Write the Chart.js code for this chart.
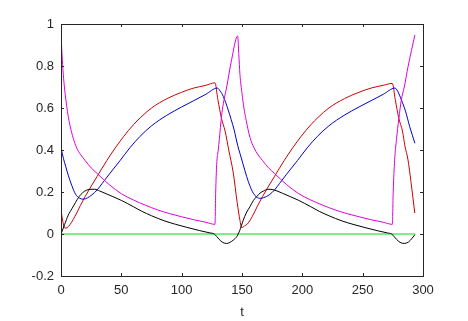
<!DOCTYPE html>
<html>
<head>
<meta charset="utf-8">
<script src="https://cdn.jsdelivr.net/npm/chart.js@4.4.0/dist/chart.umd.min.js"></script>
<style>
  html, body { margin: 0; padding: 0; background: #ffffff; }
  canvas { display: block; }
</style>
</head>
<body>
<canvas id="c" width="468" height="321"></canvas>
<script>
// ---- data ----
const xTickValues = [0, 50, 100, 150, 200, 250, 300];
const yTickValues = [-0.2, 0, 0.2, 0.4, 0.6, 0.8, 1];
const xLabel = 't';

const tRed = [0, 1.5, 3.3, 5, 7.5, 10, 13, 16, 20, 24, 30, 38, 45, 52, 60, 66, 75, 88, 100, 110, 120, 127.6,
  130, 133, 136, 139, 142.8, 146, 148.3, 149.7, 152, 154.5, 157, 160, 163, 167, 171, 177, 185, 192, 199, 207, 213, 222, 235,
  247, 257, 267, 274.6, 277, 280, 283, 285, 287.6, 290, 293.2];
const red = [0.115, 0.06, 0.028, 0.03, 0.045, 0.068, 0.10, 0.135, 0.178, 0.218, 0.275, 0.35, 0.41, 0.465, 0.52, 0.555, 0.60, 0.645, 0.675, 0.695, 0.708, 0.72,
  0.64, 0.55, 0.49, 0.40, 0.29, 0.15, 0.065, 0.03, 0.038, 0.048, 0.068, 0.10, 0.135, 0.178, 0.218, 0.275, 0.35, 0.41, 0.465, 0.52, 0.555, 0.60, 0.645,
  0.675, 0.695, 0.708, 0.717, 0.64, 0.55, 0.49, 0.42, 0.352, 0.25, 0.10];

const tBlue = [0, 2, 4, 6, 9, 12, 15.5, 18.5, 22, 25.5, 30, 34, 40, 49, 57, 65.5, 75, 87.6, 100, 110, 120, 129.5,
  132, 134.5, 138.6, 143.5, 146.5, 148.3, 151, 153.9, 156.5, 159.4, 162, 165, 168, 172.5, 177, 181, 187, 196, 204,
  212.5, 222, 234.6, 247, 257, 267, 276.8, 279, 282, 285.5, 289, 293.3];
const blue = [0.41, 0.36, 0.32, 0.28, 0.23, 0.19, 0.17, 0.166, 0.172, 0.186, 0.21, 0.24, 0.285, 0.35, 0.41, 0.465, 0.515, 0.565, 0.605, 0.635, 0.665, 0.695,
  0.68, 0.655, 0.59, 0.495, 0.42, 0.384, 0.33, 0.273, 0.23, 0.194, 0.176, 0.17, 0.173, 0.186, 0.21, 0.24, 0.285, 0.35, 0.41,
  0.465, 0.515, 0.565, 0.605, 0.635, 0.665, 0.695, 0.68, 0.64, 0.585, 0.511, 0.432];

const tBlack = [0, 3, 6, 9, 12, 15, 18, 21, 24, 28, 32, 36.5, 43, 50, 60, 67, 75, 86, 95, 104, 115, 123.5, 127,
  131, 134, 137.3, 140, 143, 145.6, 148, 151, 153.5, 156.6, 159.5, 162.2, 165, 168, 171.5, 175, 179, 183.5, 190,
  197, 207, 214, 222, 233, 242, 251, 262, 270.5, 274, 278, 281, 284.5, 288, 291, 293.3];
const black = [0, 0.045, 0.09, 0.12, 0.15, 0.178, 0.197, 0.208, 0.213, 0.213, 0.205, 0.194, 0.178, 0.16, 0.13, 0.108, 0.087, 0.062, 0.046, 0.032, 0.016, 0.005, 0,
  -0.025, -0.04, -0.045, -0.04, -0.028, -0.013, 0.015, 0.065, 0.10, 0.13, 0.16, 0.178, 0.195, 0.205, 0.213, 0.212, 0.205, 0.194, 0.178,
  0.16, 0.13, 0.108, 0.087, 0.062, 0.046, 0.032, 0.016, 0.005, 0, -0.025, -0.04, -0.045, -0.038, -0.02, -0.003];

const tMag = [0, 0.8, 1.9, 3, 4.7, 6, 7.5, 10.2, 13, 16, 20, 25, 30, 40, 50, 60, 70, 80, 90, 100, 110, 120, 127.6,
  128.2, 129, 130.3, 131.2, 133, 134.5, 137.3, 141.4, 146.4, 147.3, 148.3, 150, 151.6, 153.5, 156.6, 160, 163, 167, 172,
  177, 187, 197, 207, 217, 227, 237, 247, 257, 267, 274.6, 275.3, 276.5, 278, 280, 282, 284.5, 287.6, 293.3];
const mag = [0.96, 0.86, 0.76, 0.69, 0.61, 0.56, 0.515, 0.455, 0.41, 0.38, 0.35, 0.315, 0.288, 0.235, 0.192, 0.162, 0.137, 0.115, 0.097, 0.082, 0.068, 0.056, 0.046,
  0.2, 0.33, 0.40, 0.45, 0.56, 0.62, 0.70, 0.83, 0.943, 0.86, 0.76, 0.67, 0.6, 0.54, 0.46, 0.41, 0.38, 0.35, 0.315,
  0.288, 0.235, 0.192, 0.162, 0.137, 0.115, 0.097, 0.082, 0.068, 0.056, 0.046, 0.2, 0.352, 0.45, 0.55, 0.638, 0.70, 0.797, 0.948];

const tGreen = [0, 293.3];
const green = [0, 0];

// ---- build chart ----
const pts = (ts, vs) => ts.map((t, i) => ({ x: t, y: vs[i] }));
const axisColor = '#262626';
const fontFamily = '"Liberation Sans", Arial, Helvetica, sans-serif';

const boxTicks = {
  id: 'boxTicks',
  afterDraw(chart) {
    const { ctx, chartArea: a, scales: { x, y } } = chart;
    ctx.save();
    ctx.strokeStyle = axisColor;
    ctx.lineWidth = 1;
    ctx.strokeRect(a.left + 0.5, a.top + 0.5, a.right - a.left, a.bottom - a.top);
    const tl = 3;
    ctx.beginPath();
    x.ticks.forEach(t => {
      const px = Math.round(x.getPixelForValue(t.value)) + 0.5;
      ctx.moveTo(px, a.bottom); ctx.lineTo(px, a.bottom - tl);
      ctx.moveTo(px, a.top); ctx.lineTo(px, a.top + tl);
    });
    y.ticks.forEach(t => {
      const py = Math.round(y.getPixelForValue(t.value)) + 0.5;
      ctx.moveTo(a.left, py); ctx.lineTo(a.left + tl, py);
      ctx.moveTo(a.right, py); ctx.lineTo(a.right - tl, py);
    });
    ctx.stroke();
    ctx.restore();
  }
};

const ds = (label, ts, vs, color) => ({
  label, data: pts(ts, vs), borderColor: color, backgroundColor: color,
  borderWidth: 1, pointRadius: 0, fill: false, cubicInterpolationMode: 'monotone'
});

new Chart(document.getElementById('c'), {
  type: 'line',
  data: {
    datasets: [
      ds('m', tMag, mag, '#dd00dd'),
      ds('k', tBlack, black, '#000000'),
      ds('b', tBlue, blue, '#0000c8'),
      ds('r', tRed, red, '#cc0000'),
      ds('g', tGreen, green, '#00dd00')
    ]
  },
  options: {
    responsive: false,
    devicePixelRatio: 1,
    animation: false,
    layout: { padding: { top: 24, right: 45, left: 0, bottom: 0 } },
    plugins: { legend: { display: false }, tooltip: { enabled: false } },
    scales: {
      x: {
        type: 'linear', min: 0, max: 300,
        afterBuildTicks: s => { s.ticks = xTickValues.map(v => ({ value: v })); },
        afterFit: s => { s.height = 45; },
        grid: { display: false, drawTicks: false },
        border: { display: false },
        ticks: { padding: 7, color: axisColor, font: { family: fontFamily, size: 13 },
                 callback: v => String(v), maxRotation: 0, autoSkip: false },
        title: { display: true, text: xLabel, color: axisColor, font: { family: fontFamily, size: 13 },
                 padding: { top: 0, bottom: 1 } }
      },
      y: {
        type: 'linear', min: -0.2, max: 1,
        afterBuildTicks: s => { s.ticks = yTickValues.map(v => ({ value: v })); },
        afterFit: s => { s.width = 61; },
        grid: { display: false, drawTicks: false },
        border: { display: false },
        ticks: { padding: 7, color: axisColor, font: { family: fontFamily, size: 13 },
                 callback: v => String(Math.round(v * 10) / 10), autoSkip: false }
      }
    }
  },
  plugins: [boxTicks]
});
</script>
</body>
</html>
